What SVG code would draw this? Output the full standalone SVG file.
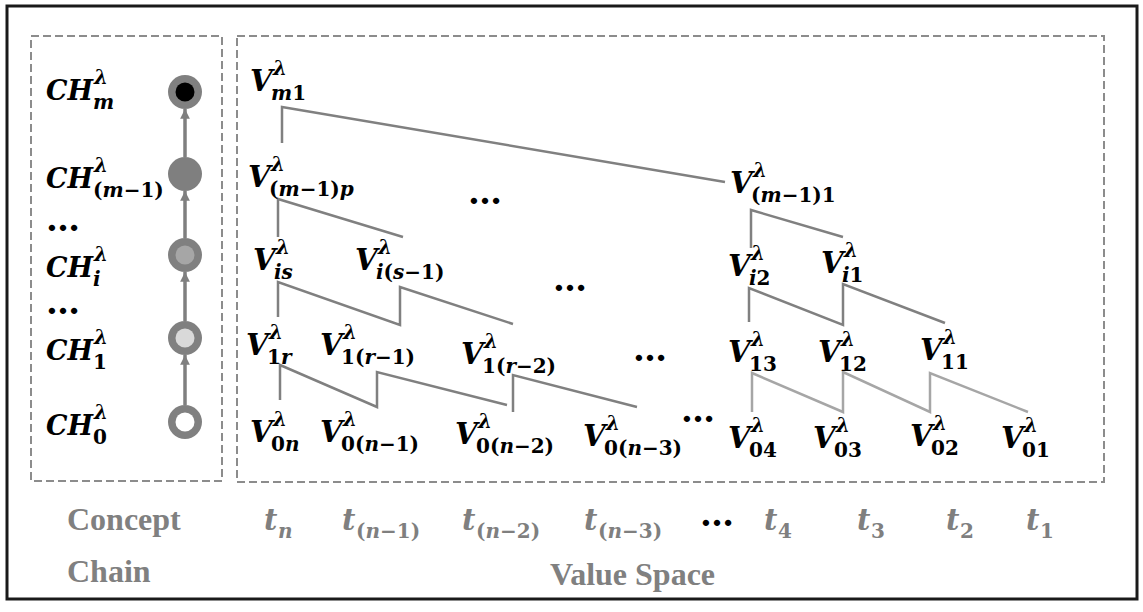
<svg xmlns="http://www.w3.org/2000/svg" width="1143" height="612" viewBox="0 0 1143 612">
<defs>
<style>
.m{font-family:"DejaVu Serif",serif;font-weight:bold;font-style:italic;font-size:29px;fill:#000}
.c27{font-size:27px}
.s{font-size:20px}
.u{font-style:normal}
.i{font-style:italic}
.g{fill:#7f7f7f}
.cap{font-family:"Liberation Serif","Times New Roman",serif;font-weight:bold;font-size:32px;fill:#808080}
.dots{font-family:"DejaVu Serif",serif;font-weight:bold;font-size:34px;fill:#000}
.box{fill:none;stroke:#8c8c8c;stroke-width:2;stroke-dasharray:8 4}
.c{fill:none;stroke:#808080;stroke-width:2.5;stroke-linejoin:miter}
.cl{fill:none;stroke:#a6a6a6;stroke-width:2.5}
.ch{stroke:#7f7f7f;stroke-width:3.5;marker-end:url(#ah)}
</style>
<marker id="ah" viewBox="0 0 10 10" refX="10" refY="5" markerWidth="2.8" markerHeight="2.8" orient="auto" markerUnits="strokeWidth">
<path d="M0,0 L10,5 L0,10 z" fill="#7f7f7f"/>
</marker>
</defs>
<rect x="0" y="0" width="1143" height="612" fill="#fff"/>
<rect x="7" y="6" width="1130" height="593" fill="none" stroke="#1a1a1a" stroke-width="3"/>
<rect class="box" x="31" y="36" width="191" height="445"/>
<rect class="box" x="237" y="36" width="867" height="446"/>

<g id="chain-edges">
<line class="ch" x1="185" y1="405" x2="185" y2="355"/>
<line class="ch" x1="185" y1="321" x2="185" y2="272"/>
<line class="ch" x1="185" y1="238" x2="185" y2="191"/>
<line class="ch" x1="185" y1="157" x2="185" y2="109"/>
</g>
<g id="ch-m"><circle cx="185" cy="92" r="17" fill="#808080"/><circle cx="185" cy="92" r="9.5" fill="#000"/>
<text class="m c27" x="46" y="100">CH<tspan class="s" x="94" y="84">λ</tspan><tspan class="s" x="93" y="109">m</tspan></text></g>
<g id="ch-m1"><circle cx="185" cy="174" r="17" fill="#7f7f7f"/>
<text class="m c27" x="46" y="188">CH<tspan class="s" x="94" y="172">λ</tspan><tspan class="s" x="93" y="197"><tspan class="u">(</tspan>m<tspan class="u">−1)</tspan></tspan></text></g>
<text class="dots" x="46" y="231">…</text>
<g id="ch-i"><circle cx="185" cy="255" r="17" fill="#808080"/><circle cx="185" cy="255" r="9.5" fill="#a6a6a6"/>
<text class="m c27" x="46" y="277">CH<tspan class="s" x="94" y="261">λ</tspan><tspan class="s" x="93" y="286">i</tspan></text></g>
<text class="dots" x="46" y="314">…</text>
<g id="ch-1"><circle cx="185" cy="338" r="17" fill="#808080"/><circle cx="185" cy="338" r="9.5" fill="#d9d9d9"/>
<text class="m c27" x="46" y="360">CH<tspan class="s" x="94" y="344">λ</tspan><tspan class="s u" x="93" y="369">1</tspan></text></g>
<g id="ch-0"><circle cx="185" cy="422" r="17" fill="#808080"/><circle cx="185" cy="422" r="9.5" fill="#fff"/>
<text class="m c27" x="46" y="435">CH<tspan class="s" x="94" y="419">λ</tspan><tspan class="s u" x="93" y="444">0</tspan></text></g>

<g id="connectors">
<polyline class="c" points="282,143 282,107 725,182"/>
<polyline class="c" points="278,237 278,199 403,237"/>
<polyline class="c" points="751,248 751,210 843,237"/>
<polyline class="c" points="278,317 278,282 400,325 400,287 513,324"/>
<polyline class="c" points="749,322 749,288 843,325 843,284 945,323"/>
<polyline class="c" points="280,400 280,365 377,407 377,372 507,405"/>
<polyline class="c" points="513,412 513,375 637,407"/>
<polyline class="cl" points="752,412 752,373 843,412 843,372 930,412 930,373 1028,412"/>
</g>

<g id="v-m1"><text class="m" x="250" y="91">V<tspan class="s" x="273" y="75">λ</tspan><tspan class="s" x="271" y="100">m<tspan class="u">1</tspan></tspan></text></g>
<g id="v-m1p"><text class="m" x="248" y="187">V<tspan class="s" x="271" y="171">λ</tspan><tspan class="s" x="269" y="196"><tspan class="u">(</tspan>m<tspan class="u">−1)</tspan>p</tspan></text></g>
<g id="v-m11"><text class="m" x="730" y="193">V<tspan class="s" x="753" y="177">λ</tspan><tspan class="s" x="751" y="202"><tspan class="u">(</tspan>m<tspan class="u">−1)1</tspan></tspan></text></g>
<text class="dots" x="468" y="204">…</text>

<g id="v-is"><text class="m" x="253" y="270">V<tspan class="s" x="276" y="254">λ</tspan><tspan class="s" x="274" y="279">is</tspan></text></g>
<g id="v-is1"><text class="m" x="355" y="270">V<tspan class="s" x="378" y="254">λ</tspan><tspan class="s" x="376" y="279">i<tspan class="u">(</tspan>s<tspan class="u">−1)</tspan></tspan></text></g>
<text class="dots" x="553" y="291">…</text>
<g id="v-i2"><text class="m" x="728" y="276">V<tspan class="s" x="751" y="260">λ</tspan><tspan class="s" x="749" y="285">i<tspan class="u">2</tspan></tspan></text></g>
<g id="v-i1"><text class="m" x="821" y="273">V<tspan class="s" x="844" y="257">λ</tspan><tspan class="s" x="842" y="282">i<tspan class="u">1</tspan></tspan></text></g>

<g id="v-1r"><text class="m" x="246" y="355">V<tspan class="s" x="269" y="339">λ</tspan><tspan class="s" x="267" y="364"><tspan class="u">1</tspan>r</tspan></text></g>
<g id="v-1r1"><text class="m" x="320" y="355">V<tspan class="s" x="343" y="339">λ</tspan><tspan class="s u" x="341" y="364">1(<tspan class="i">r</tspan>−1)</tspan></text></g>
<g id="v-1r2"><text class="m" x="461" y="364">V<tspan class="s" x="484" y="348">λ</tspan><tspan class="s u" x="482" y="373">1(<tspan class="i">r</tspan>−2)</tspan></text></g>
<text class="dots" x="633" y="361">…</text>
<g id="v-13"><text class="m" x="728" y="362">V<tspan class="s" x="751" y="346">λ</tspan><tspan class="s u" x="749" y="371">13</tspan></text></g>
<g id="v-12"><text class="m" x="818" y="362">V<tspan class="s" x="841" y="346">λ</tspan><tspan class="s u" x="839" y="371">12</tspan></text></g>
<g id="v-11"><text class="m" x="920" y="360">V<tspan class="s" x="943" y="344">λ</tspan><tspan class="s u" x="941" y="369">11</tspan></text></g>

<g id="v-0n"><text class="m" x="250" y="442">V<tspan class="s" x="273" y="426">λ</tspan><tspan class="s" x="271" y="451"><tspan class="u">0</tspan>n</tspan></text></g>
<g id="v-0n1"><text class="m" x="320" y="442">V<tspan class="s" x="343" y="426">λ</tspan><tspan class="s u" x="341" y="451">0(<tspan class="i">n</tspan>−1)</tspan></text></g>
<g id="v-0n2"><text class="m" x="455" y="444">V<tspan class="s" x="478" y="428">λ</tspan><tspan class="s u" x="476" y="453">0(<tspan class="i">n</tspan>−2)</tspan></text></g>
<g id="v-0n3"><text class="m" x="583" y="446">V<tspan class="s" x="606" y="430">λ</tspan><tspan class="s u" x="604" y="455">0(<tspan class="i">n</tspan>−3)</tspan></text></g>
<text class="dots" x="681" y="422">…</text>
<g id="v-04"><text class="m" x="728" y="448">V<tspan class="s" x="751" y="432">λ</tspan><tspan class="s u" x="749" y="457">04</tspan></text></g>
<g id="v-03"><text class="m" x="813" y="448">V<tspan class="s" x="836" y="432">λ</tspan><tspan class="s u" x="834" y="457">03</tspan></text></g>
<g id="v-02"><text class="m" x="910" y="446">V<tspan class="s" x="933" y="430">λ</tspan><tspan class="s u" x="931" y="455">02</tspan></text></g>
<g id="v-01"><text class="m" x="1001" y="448">V<tspan class="s" x="1024" y="432">λ</tspan><tspan class="s u" x="1022" y="457">01</tspan></text></g>

<g id="time-axis">
<text class="m g" x="264" y="530">t<tspan class="s" x="278" y="538">n</tspan></text>
<text class="m g" x="342" y="530">t<tspan class="s u" x="356" y="538">(<tspan class="i">n</tspan>−1)</tspan></text>
<text class="m g" x="462" y="530">t<tspan class="s u" x="476" y="538">(<tspan class="i">n</tspan>−2)</tspan></text>
<text class="m g" x="584" y="530">t<tspan class="s u" x="598" y="538">(<tspan class="i">n</tspan>−3)</tspan></text>
<text class="dots g" x="700" y="526">…</text>
<text class="m g" x="764" y="530">t<tspan class="s u" x="778" y="538">4</tspan></text>
<text class="m g" x="857" y="530">t<tspan class="s u" x="871" y="538">3</tspan></text>
<text class="m g" x="946" y="530">t<tspan class="s u" x="960" y="538">2</tspan></text>
<text class="m g" x="1026" y="530">t<tspan class="s u" x="1040" y="538">1</tspan></text>
</g>
<text class="cap" x="67" y="530">Concept</text>
<text class="cap" x="67" y="582">Chain</text>
<text class="cap" x="550" y="585">Value Space</text>
</svg>
